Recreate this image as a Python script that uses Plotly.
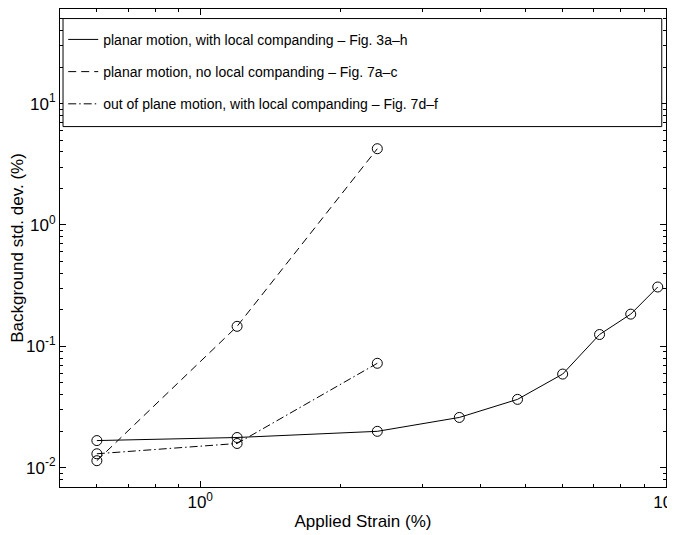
import plotly.graph_objects as go

# ---- data ----
strain_solid = [0.6, 1.2, 2.4, 3.6, 4.8, 6.0, 7.2, 8.4, 9.6]
std_solid = [0.0167, 0.0177, 0.0199, 0.0259, 0.0365, 0.059, 0.125, 0.184, 0.308]

strain_dash = [0.6, 1.2, 2.4]
std_dash = [0.0114, 0.146, 4.25]

strain_dashdot = [0.6, 1.2, 2.4]
std_dashdot = [0.0130, 0.0158, 0.0724]

names = [
    "planar motion, with local companding \u2013 Fig. 3a\u2013h",
    "planar motion, no local companding \u2013 Fig. 7a\u2013c",
    "out of plane motion, with local companding \u2013 Fig. 7d\u2013f",
]

xtick_vals = [1, 10]
xtick_text = ["10<sup>0</sup>", "10<sup>1</sup>"]
ytick_vals = [0.01, 0.1, 1, 10]
ytick_text = ["10<sup>-2</sup>", "10<sup>-1</sup>", "10<sup>0</sup>", "10<sup>1</sup>"]

decades_x = [0.1, 1]
decades_y = [0.001, 0.01, 0.1, 1, 10]
minor_digits = [2, 3, 4, 5, 6, 7, 8, 9]
minor_x = [d * m for d in decades_x for m in minor_digits]
minor_y = [d * m for d in decades_y for m in minor_digits]

FONT = "Liberation Sans, Arial, Helvetica, sans-serif"

series = [
    (strain_solid, std_solid, "solid"),
    (strain_dash, std_dash, "8px,5px"),
    (strain_dashdot, std_dashdot, "8px,3px,1.5px,3px"),
]

fig = go.Figure()
for i, (xs, ys, dash) in enumerate(series):
    fig.add_trace(go.Scatter(
        x=xs, y=ys, mode="lines", name=names[i], legendgroup=f"g{i}",
        line=dict(color="black", width=1, dash=dash),
    ))
    fig.add_trace(go.Scatter(
        x=xs, y=ys, mode="markers", showlegend=False, legendgroup=f"g{i}",
        marker=dict(symbol="circle-open", size=10, color="black", line=dict(width=1)),
    ))

axis_common = dict(
    type="log", automargin=False,
    showline=True, linecolor="black", linewidth=1, mirror="ticks",
    ticks="inside", ticklen=6, tickcolor="black", tickwidth=1,
    showgrid=False, zeroline=False,
    tickfont=dict(family=FONT, size=17, color="black"),
    ticklabeloverflow="allow",
)

fig.update_xaxes(
    **axis_common,
    range=[-0.301, 1.0],
    tickvals=xtick_vals, ticktext=xtick_text,
    minor=dict(tickvals=minor_x, ticks="inside", ticklen=3, tickcolor="black", showgrid=False),
    title=dict(text="Applied Strain (%)", font=dict(family=FONT, size=17, color="black"), standoff=3),
)
fig.update_yaxes(
    **axis_common,
    range=[-2.16, 1.78],
    tickvals=ytick_vals, ticktext=ytick_text,
    minor=dict(tickvals=minor_y, ticks="inside", ticklen=3, tickcolor="black", showgrid=False),
    title=dict(text="Background std. dev. (%)", font=dict(family=FONT, size=17, color="black"), standoff=0),
)

fig.add_shape(
    type="rect", xref="paper", yref="paper",
    x0=0.005, x1=0.993, y0=0.754, y1=0.980,
    line=dict(color="black", width=1), fillcolor="white", layer="above",
)

# the page body adds an 8px offset; the figure is sized to fill the rest of the window
fig.update_layout(
    width=667, height=527,
    margin=dict(l=52, r=9, t=1, b=48),
    plot_bgcolor="white", paper_bgcolor="white",
    font=dict(family=FONT, size=14, color="black"),
    legend=dict(
        x=0.0053, y=0.969, xanchor="left", yanchor="top",
        bgcolor="rgba(0,0,0,0)", borderwidth=0,
        font=dict(family=FONT, size=14, color="black"),
        tracegroupgap=11, itemwidth=30,
    ),
)

fig.write_html("out.html")
